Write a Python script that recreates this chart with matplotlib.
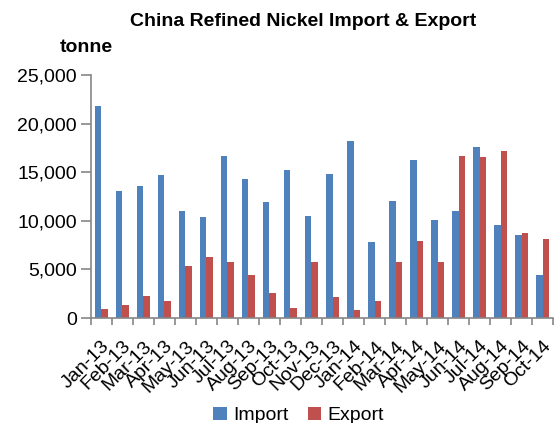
import matplotlib.pyplot as plt
import numpy as np
from matplotlib.ticker import FuncFormatter, MultipleLocator

plt.rcParams["font.family"] = ["Liberation Sans", "DejaVu Sans"]

# --- Data (tonnes) ---
months = ["Jan-13", "Feb-13", "Mar-13", "Apr-13", "May-13", "Jun-13", "Jul-13",
          "Aug-13", "Sep-13", "Oct-13", "Nov-13", "Dec-13", "Jan-14", "Feb-14",
          "Mar-14", "Apr-14", "May-14", "Jun-14", "Jul-14", "Aug-14", "Sep-14",
          "Oct-14"]
imports = [21770, 13030, 13610, 14740, 11040, 10390, 16630, 14300, 11890, 15190,
           10450, 14810, 18240, 7820, 12030, 16290, 10110, 10970, 17620, 9530,
           8570, 4420]
exports = [950, 1300, 2220, 1710, 5310, 6240, 5720, 4450, 2570, 1060,
           5760, 2160, 790, 1780, 5790, 7880, 5790, 16700, 16600, 17210,
           8740, 8160]

BLUE = "#4F81BD"
RED = "#C0504D"
AXIS_GREY = "#868686"

fig = plt.figure(figsize=(5.6, 4.23), dpi=100)
ax = fig.add_axes([0.162, 0.248, 0.826, 0.575])

x = np.arange(len(months))
w = 0.3
ax.bar(x - w / 2, imports, width=w, color=BLUE, label="Import")
ax.bar(x + w / 2, exports, width=w, color=RED, label="Export")

ax.set_xlim(-0.5, len(months) - 0.5)
ax.set_ylim(0, 25000)
ax.yaxis.set_major_locator(MultipleLocator(5000))
ax.yaxis.set_major_formatter(FuncFormatter(lambda v, _: f"{v:,.0f}"))

# category labels at centres, tick marks at category boundaries
ax.set_xticks(x)
ax.set_xticklabels(months, rotation=45, ha="right", rotation_mode="anchor")
ax.set_xticks(np.arange(-0.5, len(months)), minor=True)
ax.tick_params(axis="x", which="major", length=0, labelsize=14, pad=14)
ax.tick_params(axis="x", which="minor", length=5, color=AXIS_GREY, width=1.2)
ax.tick_params(axis="y", length=7, color=AXIS_GREY, width=1.2, labelsize=14, pad=3)

for side in ("top", "right"):
    ax.spines[side].set_visible(False)
for side in ("left", "bottom"):
    ax.spines[side].set_color(AXIS_GREY)
    ax.spines[side].set_linewidth(1.2)

fig.text(0.541, 0.950, "China Refined Nickel Import & Export",
         ha="center", va="center", fontsize=14, fontweight="bold")
fig.text(0.154, 0.887, "tonne", ha="center", va="center",
         fontsize=14, fontweight="bold")

fig.legend(loc="center", bbox_to_anchor=(0.533, 0.018), ncol=2,
           frameon=False, fontsize=14, handlelength=0.7, handleheight=0.7,
           handletextpad=0.3, columnspacing=1.0, borderaxespad=0)

fig.savefig("out.png", dpi=100)
